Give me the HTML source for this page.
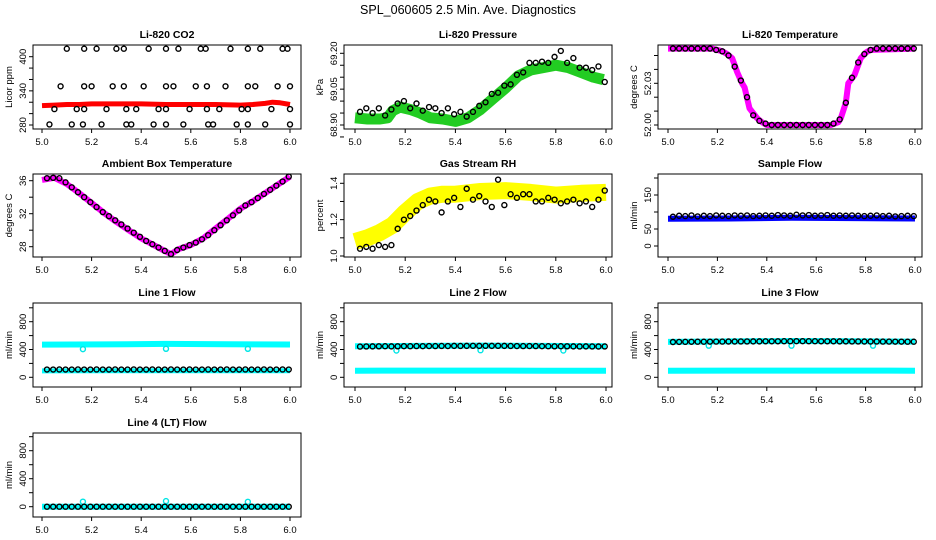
<!DOCTYPE html>
<html><head><meta charset="utf-8"><title>SPL_060605 Diagnostics</title>
<style>
html,body{margin:0;padding:0;background:#fff;width:936px;height:540px;overflow:hidden}
svg{display:block;font-family:"Liberation Sans",Arial,sans-serif}
</style></head>
<body>
<svg id="chart" width="936" height="540" viewBox="0 0 936 540" xmlns="http://www.w3.org/2000/svg">
<rect x="0" y="0" width="936" height="540" fill="#fff"/>
<text x="468" y="14" text-anchor="middle" font-size="12.5" fill="#000">SPL_060605  2.5 Min. Ave. Diagnostics</text>
</svg>
<script>
// ---------- shared data ----------
var blackT = [5.02,5.045,5.07,5.095,5.12,5.145,5.17,5.195,5.22,5.245,5.27,5.295,5.32,5.345,5.37,5.395,5.42,5.445,5.47,5.495,5.52,5.545,5.57,5.595,5.62,5.645,5.67,5.695,5.72,5.745,5.77,5.795,5.82,5.845,5.87,5.895,5.92,5.945,5.97,5.995];
var xTicks = [5.0,5.2,5.4,5.6,5.8,6.0];
var xTickLabels = ["5.0","5.2","5.4","5.6","5.8","6.0"];

// CO2
var co2BlackT = [5.10,5.17,5.22,5.30,5.33,5.43,5.50,5.55,5.64,5.66,5.76,5.83,5.88,5.97,5.99, 5.075,5.17,5.20,5.285,5.33,5.41,5.50,5.53,5.62,5.665,5.74,5.83,5.86,5.95,6.0, 5.05,5.14,5.17,5.26,5.34,5.38,5.47,5.50,5.595,5.665,5.715,5.805,5.83,5.925,6.0, 5.03,5.12,5.165,5.24,5.34,5.36,5.45,5.50,5.57,5.67,5.69,5.785,5.83,5.90,6.0];
var co2BlackV = [414,414,414,414,414,414,414,414,414,414,414,414,414,414,414, 348,348,348,348,348,348,348,348,348,348,348,348,348,348,348, 308,308,308,308,308,308,308,308,308,308,308,308,308,308,308, 281,281,281,281,281,281,281,281,281,281,281,281,281,281,281];
var co2RedT = [5.0,5.05,5.1,5.15,5.2,5.3,5.4,5.5,5.6,5.7,5.8,5.85,5.9,5.93,5.96,6.0];
var co2RedV = [314,315,316,316,317,317,317,316,316,316,315,316,318,320,319,316];

// Pressure
var presGreenT = [5.0,5.05,5.1,5.13,5.15,5.18,5.22,5.26,5.3,5.35,5.4,5.45,5.5,5.55,5.6,5.65,5.7,5.75,5.8,5.85,5.9,5.95,5.99];
var presGreenV = [68.93,68.925,68.925,68.93,68.96,68.975,68.965,68.95,68.93,68.925,68.915,68.93,68.965,69.01,69.055,69.105,69.13,69.14,69.15,69.14,69.12,69.10,69.09];
var presBlackV = [68.955,68.97,68.95,68.97,68.94,68.965,68.99,69.0,68.97,68.99,68.96,68.975,68.97,68.95,68.97,68.945,68.955,68.935,68.955,68.98,68.995,69.03,69.035,69.065,69.07,69.11,69.12,69.16,69.16,69.165,69.16,69.185,69.21,69.16,69.18,69.14,69.14,69.13,69.145,69.08];

// Li-820 temperature
var tempMagT = [5.0,5.18,5.22,5.24,5.26,5.28,5.30,5.31,5.33,5.36,5.38,5.40,5.66,5.69,5.70,5.72,5.73,5.755,5.78,5.80,5.82,6.0];
var tempMagV = [52.055,52.055,52.053,52.051,52.048,52.038,52.030,52.027,52.012,52.005,52.002,52.000,52.000,52.002,52.005,52.016,52.030,52.036,52.048,52.052,52.054,52.055];
var tempBlackV = [52.055,52.055,52.055,52.055,52.055,52.055,52.055,52.054,52.053,52.050,52.042,52.032,52.020,52.007,52.003,52.001,52.000,52.000,52.000,52.000,52.000,52.000,52.000,52.000,52.000,52.000,52.001,52.004,52.016,52.034,52.045,52.051,52.054,52.055,52.055,52.055,52.055,52.055,52.055,52.055];

// Ambient box temperature
var ambMagT = [5.0,5.05,5.1,5.15,5.2,5.25,5.3,5.35,5.4,5.45,5.5,5.52,5.55,5.6,5.65,5.7,5.75,5.8,5.85,5.9,5.95,6.0];
var ambMagV = [36.1,36.35,35.6,34.5,33.3,32.1,31.0,30.0,29.0,28.2,27.4,27.1,27.7,28.2,29.0,30.2,31.4,32.6,33.5,34.5,35.5,36.5];
var ambBlackV = [36.3,36.35,36.3,35.8,35.2,34.6,34.0,33.4,32.8,32.2,31.7,31.2,30.7,30.2,29.7,29.2,28.7,28.3,27.9,27.5,27.1,27.6,27.9,28.2,28.5,28.9,29.4,30.0,30.6,31.2,31.8,32.4,33.0,33.4,33.9,34.4,34.9,35.4,35.9,36.5];

// Gas stream RH
var rhYelT = [5.0,5.05,5.1,5.15,5.2,5.25,5.3,5.35,5.4,5.5,5.6,5.7,5.8,5.9,6.0];
var rhYelV = [1.08,1.10,1.13,1.17,1.24,1.30,1.33,1.34,1.34,1.355,1.36,1.35,1.335,1.345,1.35];
var rhBlackV = [1.04,1.05,1.04,1.06,1.05,1.06,1.15,1.20,1.22,1.25,1.28,1.31,1.30,1.24,1.30,1.32,1.27,1.37,1.31,1.33,1.30,1.27,1.42,1.28,1.34,1.32,1.34,1.34,1.30,1.30,1.32,1.31,1.29,1.30,1.31,1.29,1.30,1.27,1.31,1.36];

// Sample flow
var sampBlueT = [5.0,5.25,5.5,5.75,6.0];
var sampBlueV = [80,81,83,82,81];
var sampBlackV = [86,89,88,90,87,89,88,90,89,88,90,89,90,88,89,90,89,91,90,89,92,90,91,89,90,91,89,90,89,90,89,88,89,90,88,89,87,88,89,88];

// Line flows
var flowT = [5.0,5.25,5.5,5.75,6.0];
var dipT = [5.165,5.5,5.83];
var line1UpperV = [470,474,480,476,472];
var line1LowerV = [92,94,95,94,93];
var line1BlackV = [112,112,113,112,112,113,112,112,113,112,112,113,112,112,113,112,112,113,112,112,113,112,112,113,112,112,113,112,112,113,112,112,113,112,112,113,112,112,113,112];
var line1DipV = [405,410,410];
var line2UpperV = [448,452,456,452,448];
var line2LowerV = [95,96,96,95,95];
var line2BlackV = [442,444,445,446,447,445,446,448,447,449,448,450,449,451,450,452,451,452,453,452,453,452,453,452,451,450,449,450,449,448,447,446,447,446,445,444,445,444,443,444];
var line2DipV = [385,390,385];
var line3UpperV = [510,516,522,518,514];
var line3LowerV = [95,96,97,96,95];
var line3BlackV = [508,509,510,511,512,512,513,514,514,515,515,516,516,517,517,518,518,518,519,519,520,520,519,519,518,518,518,517,517,516,516,515,515,515,514,514,513,513,512,512];
var line3DipV = [455,455,455];
var line4CyanV = [0,0,0,0,0];
var line4BlackV = [0,0,0,0,0,0,0,0,0,0,0,0,0,0,0,0,0,0,0,0,0,0,0,0,0,0,0,0,0,0,0,0,0,0,0,0,0,0,0,0];
var line4DipV = [72,80,70];

// ---------- layout ----------
var svg = document.getElementById('chart');
var NS = 'http://www.w3.org/2000/svg';
var colBoxL = [33,344,658], colBoxR = [301,612,922];
var colX5 = [42,355,668], colX6 = [290,606,915];
var rowTop = [45,174,303,433], rowBot = [129,257,387,517];

function mk(tag, attrs, parent){
  var e = document.createElementNS(NS, tag);
  for (var k in attrs) e.setAttribute(k, attrs[k]);
  (parent||svg).appendChild(e);
  return e;
}

function Panel(col,row,title,ylab,v1,p1,v2,p2,ticks,labels,key){
  var g = mk('g',{});
  
  
  this.g = g;
  var L = colBoxL[col], R = colBoxR[col], T = rowTop[row], B = rowBot[row];
  this.x = function(t){ return colX5[col] + (t-5)*(colX6[col]-colX5[col]); };
  this.y = function(v){ return p1 + (v-v1)*(p2-p1)/(v2-v1); };
  var box = mk('rect',{x:L,y:T,width:R-L,height:B-T,fill:'none',stroke:'#000','stroke-width':1},g);
  
  
  var tt = mk('text',{x:(L+R)/2,y:T-7,'text-anchor':'middle','font-size':10.5,'font-weight':'bold'},g);
  tt.textContent = title;
  
  
  var yl = mk('text',{transform:'translate('+(L-21)+','+((T+B)/2)+') rotate(-90)','text-anchor':'middle','font-size':9.5},g);
  yl.textContent = ylab;
  
  
  var self = this;
  ticks.forEach(function(v){
    var py = self.y(v);
    var tk = mk('line',{x1:L-4,x2:L,y1:py,y2:py,stroke:'#000','stroke-width':1},g);
    
    
  });
  labels.forEach(function(s){
    var py = self.y(parseFloat(s));
    var lb = mk('text',{transform:'translate('+(L-7)+','+py+') rotate(-90)','text-anchor':'middle','font-size':9.5},g);
    lb.textContent = s;
    
    
  });
  xTicks.forEach(function(t,i){
    var px = self.x(t);
    var tk = mk('line',{x1:px,x2:px,y1:B,y2:B+4,stroke:'#000','stroke-width':1},g);
    
    
    var lb = mk('text',{x:px,y:B+16,'text-anchor':'middle','font-size':9.5},g);
    lb.textContent = xTickLabels[i];
    
    
  });
}
Panel.prototype.band = function(ts,vs,color,width,name){
  var self=this;
  var pts = ts.map(function(t,i){ return self.x(t).toFixed(1)+','+self.y(vs[i]).toFixed(1); }).join(' ');
  var pl = mk('polyline',{points:pts,fill:'none',stroke:color,'stroke-width':width,'stroke-linejoin':'round','stroke-linecap':'butt'},this.g);
  
  
};
Panel.prototype.points = function(ts,vs,color,name){
  var self=this;
  ts.forEach(function(t,i){
    var c = mk('circle',{cx:self.x(t),cy:self.y(vs[i]),r:2.5,fill:'none',stroke:color,'stroke-width':1.4},self.g);
    
    
  });
};

var flowTicks=[0,200,400,600,800,1000], flowLabels=['0','400','800'];

// Row 1
var p = new Panel(0,0,'Li-820 CO2','Licor ppm',280,125,400,56.7,[280,300,320,340,360,380,400],['280','340','400'],'co2');
p.band(co2RedT,co2RedV,'#ff0000',5,'co2-red-series');
p.points(co2BlackT,co2BlackV,'#000','co2-black-point');

p = new Panel(1,0,'Li-820 Pressure','kPa',68.90,125,69.20,53.3,[68.85,68.90,68.95,69.00,69.05,69.10,69.15,69.20],['68.90','69.05','69.20'],'pressure');
p.band(presGreenT,presGreenV,'#22cc22',11,'pressure-green-series');
p.points(blackT,presBlackV,'#000','pressure-black-point');

p = new Panel(2,0,'Li-820 Temperature','degrees C',52.00,125,52.03,83.3,[52.00,52.01,52.02,52.03,52.04,52.05],['52.00','52.03'],'li820-temp');
p.band(tempMagT,tempMagV,'#ff00ff',6,'li820-temp-magenta-series');
p.points(blackT,tempBlackV,'#000','li820-temp-black-point');

// Row 2
p = new Panel(0,1,'Ambient Box Temperature','degrees C',28,246.7,36,180.7,[28,30,32,34,36],['28','32','36'],'ambient');
p.band(ambMagT,ambMagV,'#ff00ff',6,'ambient-magenta-series');
p.points(blackT,ambBlackV,'#000','ambient-black-point');

p = new Panel(1,1,'Gas Stream RH','percent',1.0,256,1.4,183.3,[1.0,1.1,1.2,1.3,1.4],['1.0','1.2','1.4'],'rh');
p.band(rhYelT,rhYelV,'#ffff00',17,'rh-yellow-series');
p.points(blackT,rhBlackV,'#000','rh-black-point');

p = new Panel(2,1,'Sample Flow','ml/min',0,246,150,195,[0,50,100,150,200],['0','50','150'],'sample-flow');
p.band(sampBlueT,sampBlueV,'#0000ff',6,'sample-flow-blue-series');
p.points(blackT,sampBlackV,'#000','sample-flow-black-point');

// Row 3
p = new Panel(0,2,'Line 1 Flow','ml/min',0,377.3,800,321.7,flowTicks,flowLabels,'line1');
p.band(flowT,line1UpperV,'#00ffff',6,'line1-upper-cyan-series');
p.band(flowT,line1LowerV,'#00ffff',5,'line1-lower-cyan-series');
p.points(dipT,line1DipV,'#00e5e5','line1-cyan-outlier');
p.points(blackT,line1BlackV,'#000','line1-black-point');

p = new Panel(1,2,'Line 2 Flow','ml/min',0,377.3,800,321.7,flowTicks,flowLabels,'line2');
p.band(flowT,line2UpperV,'#00ffff',6,'line2-upper-cyan-series');
p.band(flowT,line2LowerV,'#00ffff',6,'line2-lower-cyan-series');
p.points(dipT,line2DipV,'#00e5e5','line2-cyan-outlier');
p.points(blackT,line2BlackV,'#000','line2-black-point');

p = new Panel(2,2,'Line 3 Flow','ml/min',0,377.3,800,321.7,flowTicks,flowLabels,'line3');
p.band(flowT,line3UpperV,'#00ffff',6,'line3-upper-cyan-series');
p.band(flowT,line3LowerV,'#00ffff',6,'line3-lower-cyan-series');
p.points(dipT,line3DipV,'#00e5e5','line3-cyan-outlier');
p.points(blackT,line3BlackV,'#000','line3-black-point');

// Row 4
p = new Panel(0,3,'Line 4 (LT) Flow','ml/min',0,506.7,800,450.7,flowTicks,flowLabels,'line4');
p.band(flowT,line4CyanV,'#00ffff',6,'line4-cyan-series');
p.points(dipT,line4DipV,'#00e5e5','line4-cyan-outlier');
p.points(blackT,line4BlackV,'#000','line4-black-point');
</script>
</body></html>
